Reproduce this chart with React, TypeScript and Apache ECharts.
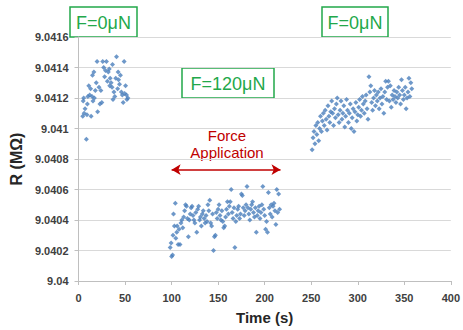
import React, { useEffect, useRef } from "react";
import * as echarts from "echarts";

// Time (s), R (MΩ) — before force
const noForceBefore: [number, number][] = [
  [4.5, 9.04108], [5, 9.04118], [5.5, 9.0412], [6, 9.0411], [7, 9.04113], [8.4, 9.04093],
  [9, 9.04109], [9.5, 9.04116], [10, 9.04121], [11, 9.04128], [12, 9.04122], [13, 9.04126],
  [13.5, 9.04108], [14.5, 9.04121], [15, 9.04135], [15.5, 9.04118], [16.5, 9.04137], [17, 9.0412],
  [18, 9.04125], [19, 9.0413], [19.9, 9.04144], [20.5, 9.04111], [22, 9.04127], [23, 9.04116],
  [24, 9.04125], [25, 9.04117], [26, 9.04144], [27, 9.0414], [28, 9.04134], [29, 9.04138],
  [30, 9.04144], [31, 9.04131], [32, 9.04137], [33, 9.04139], [33.5, 9.04128], [34, 9.04133],
  [35, 9.0413], [36, 9.04127], [36.5, 9.04142], [37, 9.04119], [38, 9.04124], [39, 9.04121],
  [40, 9.04133], [40.8, 9.04147], [42, 9.04126], [42.5, 9.04137], [43, 9.04132], [44, 9.04129],
  [45, 9.04135], [46, 9.04124], [47, 9.04122], [48, 9.04117], [49, 9.04144], [49.5, 9.04123],
  [50.5, 9.04128], [51.5, 9.04122], [52, 9.04119], [53, 9.0412],
];

// during force application (F = 120 µN)
const forceApplied: [number, number][] = [
  [98.5, 9.04022], [99.5, 9.04025], [100, 9.04016], [101, 9.04017], [101.5, 9.0403], [102, 9.04044],
  [103, 9.04036], [104, 9.04051], [104.5, 9.04028], [105.5, 9.04032], [106, 9.04036], [107, 9.04024],
  [108, 9.04034], [109, 9.04024], [110, 9.04038], [111, 9.0404], [112, 9.04035], [113, 9.04042],
  [114, 9.04046], [115, 9.0405], [116, 9.04049], [117, 9.04041], [118, 9.04029], [119, 9.0404],
  [120, 9.04044], [121, 9.04048], [122, 9.04049], [123, 9.04043], [124, 9.0404], [125, 9.04038],
  [126, 9.04045], [127, 9.04032], [128, 9.04047], [129, 9.04049], [130, 9.0404], [131, 9.04042],
  [132, 9.04036], [133, 9.04044], [134, 9.04046], [135, 9.04041], [136, 9.04038], [137, 9.04043],
  [138, 9.04039], [139, 9.0405], [140, 9.04046], [141, 9.04053], [142, 9.04038], [143, 9.04036],
  [144, 9.04044], [145, 9.0402], [146, 9.04029], [147, 9.0403], [148, 9.04045], [149, 9.04041],
  [150, 9.04047], [151, 9.0405], [152, 9.04043], [153, 9.0404], [154, 9.04046], [155, 9.04039],
  [156, 9.04035], [157, 9.04036], [158, 9.04042], [159, 9.04047], [160, 9.04052], [161, 9.04044],
  [162, 9.04049], [163, 9.04052], [164, 9.0406], [165, 9.04045], [166, 9.04041], [167, 9.04048],
  [168, 9.04022], [169, 9.04039], [170, 9.04043], [171, 9.04047], [172, 9.04049], [173, 9.04041],
  [174, 9.04044], [175, 9.04057], [176, 9.04056], [177, 9.04048], [178, 9.04043], [179, 9.04046],
  [180, 9.0405], [181, 9.04062], [182, 9.04048], [183, 9.04044], [184, 9.0404], [185, 9.04047],
  [186, 9.0405], [187, 9.04052], [188, 9.04045], [189, 9.04042], [190, 9.04048], [191, 9.04032],
  [192, 9.04043], [193, 9.04046], [194, 9.04049], [195, 9.04041], [196, 9.04045], [197, 9.0405],
  [198, 9.04062], [199, 9.04047], [200, 9.04043], [201, 9.04034], [202, 9.04039], [203, 9.04032],
  [204, 9.04058], [205, 9.04048], [206, 9.04044], [207, 9.0405], [208, 9.04042], [209, 9.04049],
  [210, 9.04051], [211, 9.04046], [212, 9.04037], [213, 9.0406], [214, 9.04045], [215, 9.04057],
  [216, 9.04047],
];

// after force released
const noForceAfter: [number, number][] = [
  [251, 9.04086], [252, 9.04094], [253, 9.04098], [254, 9.0409], [255, 9.04102], [256, 9.04096],
  [257, 9.04104], [258, 9.04092], [259, 9.041], [260, 9.04108], [261, 9.04098], [262, 9.04105],
  [263, 9.0411], [264, 9.04102], [265, 9.04112], [266, 9.04106], [267, 9.04099], [268, 9.04115],
  [269, 9.04108], [270, 9.04104], [271, 9.04111], [272, 9.04118], [273, 9.0411], [274, 9.04102],
  [275, 9.04113], [276, 9.04107], [277, 9.04116], [278, 9.0412], [279, 9.04109], [280, 9.04104],
  [281, 9.04112], [282, 9.04118], [283, 9.04106], [284, 9.0411], [285, 9.04115], [286, 9.04101],
  [287, 9.04108], [288, 9.04119], [289, 9.04112], [290, 9.04104], [291, 9.0411], [292, 9.04116],
  [293, 9.041], [294, 9.04107], [295, 9.04113], [296, 9.04098], [297, 9.04111], [298, 9.04117],
  [299, 9.04105], [300, 9.04109], [301, 9.04114], [302, 9.04119], [303, 9.04108], [304, 9.04112],
  [305, 9.04121], [306, 9.04116], [307, 9.0411], [308, 9.04118], [309, 9.04122], [310, 9.04113],
  [311, 9.04106], [312, 9.04134], [313, 9.04124], [314, 9.04128], [315, 9.04117], [316, 9.04112],
  [317, 9.0412], [318, 9.04125], [319, 9.04115], [320, 9.04122], [321, 9.04118], [322, 9.04124],
  [323, 9.04113], [324, 9.0412], [325, 9.04126], [326, 9.04116], [327, 9.04121], [328, 9.0411],
  [329, 9.04124], [330, 9.04131], [331, 9.04119], [332, 9.04127], [333, 9.04131], [334, 9.04118],
  [335, 9.04128], [336, 9.04114], [337, 9.04122], [338, 9.04119], [339, 9.04125], [340, 9.04121],
  [341, 9.04117], [342, 9.04124], [343, 9.0412], [344, 9.04127], [345, 9.04122], [346, 9.04116],
  [347, 9.04132], [348, 9.04125], [349, 9.04119], [350, 9.04122], [351, 9.04127], [352, 9.04113],
  [353, 9.0412], [354, 9.04124], [355, 9.04133], [356, 9.04121], [357, 9.0413], [358, 9.04126],
];

// force application arrow span (s) and level (MΩ)
const arrowSpan = [100, 217];
const arrowLevel = 9.04073;

const forceLabels = ["F=0μN", "F=120μN", "F=0μN"];

const BLUE = "#4a7ebb";
const GREEN = "#22a84a";
const RED = "#c00000";

function greenBox(x: number, y: number, w: number, h: number, text: string) {
  return {
    type: "group",
    x,
    y,
    children: [
      {
        type: "rect",
        shape: { x: 0, y: 0, width: w, height: h },
        style: { fill: "#ffffff", stroke: GREEN, lineWidth: 1.5 },
      },
      {
        type: "text",
        x: w / 2,
        y: h / 2 + 1,
        style: {
          text,
          fill: GREEN,
          font: '18px "Liberation Sans", Arial, sans-serif',
          align: "center",
          verticalAlign: "middle",
        },
      },
    ],
  };
}

export default function App() {
  const ref = useRef<HTMLDivElement>(null);
  useEffect(() => {
    if (!ref.current) return;
    const chart = echarts.init(ref.current, undefined, { renderer: "svg" });
    const scatterBase = {
      type: "scatter",
      symbol: "diamond",
      symbolSize: 5,
      itemStyle: { color: BLUE },
      silent: true,
    };
    chart.setOption({
      animation: false,
      textStyle: { fontFamily: '"Liberation Sans", Arial, sans-serif' },
      grid: { left: 72, right: 8, top: 37, bottom: 49, containLabel: false },
      xAxis: {
        type: "value",
        min: 0,
        max: 400,
        interval: 50,
        name: "Time (s)",
        nameLocation: "middle",
        nameGap: 29,
        nameTextStyle: { fontSize: 15, fontWeight: "bold", color: "#262626" },
        axisLine: { show: true, lineStyle: { color: "#bfbfbf" } },
        axisTick: { show: true, length: 4, lineStyle: { color: "#bfbfbf" } },
        axisLabel: { fontSize: 11, fontWeight: "bold", color: "#404040", margin: 11 },
        splitLine: { show: false },
      },
      yAxis: {
        type: "value",
        min: 9.04,
        max: 9.0416,
        interval: 0.0002,
        name: "R (MΩ)",
        nameLocation: "middle",
        nameGap: 46,
        nameTextStyle: { fontSize: 16, fontWeight: "bold", color: "#262626" },
        axisLine: { show: true, lineStyle: { color: "#bfbfbf" } },
        axisTick: { show: true, length: 4, lineStyle: { color: "#bfbfbf" } },
        axisLabel: {
          fontSize: 11,
          fontWeight: "bold",
          color: "#404040",
          margin: 10,
          formatter: (v: number) => String(parseFloat(v.toFixed(4))),
        },
        splitLine: { show: true, lineStyle: { color: "#d9d9d9", width: 1 } },
      },
      series: [
        { ...scatterBase, name: "before", data: noForceBefore },
        {
          ...scatterBase,
          name: "force",
          data: forceApplied,
          markLine: {
            silent: true,
            symbol: ["arrow", "arrow"],
            symbolSize: [8, 9],
            label: { show: false },
            lineStyle: { color: RED, width: 1.5, type: "solid" },
            data: [
              [
                { coord: [arrowSpan[0], arrowLevel] },
                { coord: [arrowSpan[1], arrowLevel] },
              ],
            ],
          },
        },
        { ...scatterBase, name: "after", data: noForceAfter },
      ],
      graphic: [
        greenBox(70, 7, 67, 30, forceLabels[0]),
        greenBox(182, 68, 92, 30, forceLabels[1]),
        greenBox(322, 7, 66, 30, forceLabels[2]),
        {
          type: "text",
          x: 227,
          y: 135,
          style: {
            text: "Force",
            fill: RED,
            font: '15px "Liberation Sans", Arial, sans-serif',
            align: "center",
            verticalAlign: "middle",
          },
        },
        {
          type: "text",
          x: 227,
          y: 152,
          style: {
            text: "Application",
            fill: RED,
            font: '15px "Liberation Sans", Arial, sans-serif',
            align: "center",
            verticalAlign: "middle",
          },
        },
      ],
    });
    return () => chart.dispose();
  }, []);
  return (
    <div
      ref={ref}
      style={{ position: "fixed", left: 0, top: 0, width: 463, height: 330, background: "#fff" }}
    />
  );
}
